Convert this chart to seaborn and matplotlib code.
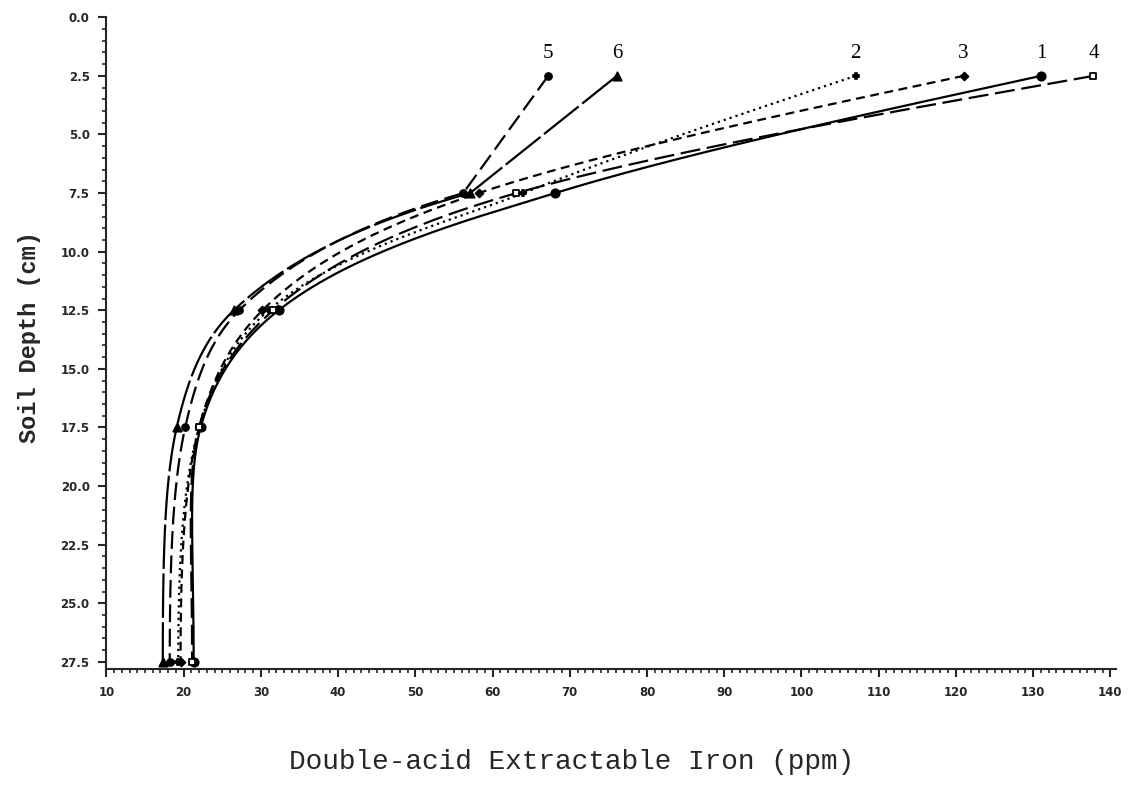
import numpy as np
import pandas as pd
import matplotlib
matplotlib.use("Agg")
import matplotlib.pyplot as plt
import seaborn as sns
from matplotlib.ticker import MultipleLocator, FormatStrFormatter

# ---- data ----
depths = [2.5, 7.5, 12.5, 17.5, 27.5]
series_names = ["1", "2", "3", "4", "5", "6"]
iron_1 = [131.0, 68.1, 32.3, 22.2, 21.3]
iron_2 = [107.0, 64.0, 31.0, 22.0, 19.3]
iron_3 = [121.0, 58.2, 30.2, 22.0, 19.6]
iron_4 = [137.8, 63.1, 31.6, 22.0, 21.1]
iron_5 = [67.2, 56.2, 27.2, 20.2, 18.2]
iron_6 = [76.1, 57.1, 26.5, 19.1, 17.3]
x_ticks = list(range(10, 141, 10))
y_ticks = [0.0, 2.5, 5.0, 7.5, 10.0, 12.5, 15.0, 17.5, 20.0, 22.5, 25.0, 27.5]

values = dict(zip(series_names, [iron_1, iron_2, iron_3, iron_4, iron_5, iron_6]))

styles = {
    "1": dict(dash=None, marker="o", ms=6, mfc="black", straight_top=False),
    "2": dict(dash=(1.0, 1.8), marker="P", ms=5, mfc="black", straight_top=False),
    "3": dict(dash=(4, 2.5), marker="D", ms=4, mfc="black", straight_top=False),
    "4": dict(dash=(9, 3), marker="s", ms=5, mfc="white", straight_top=False),
    "5": dict(dash=(8, 3), marker="o", ms=5, mfc="black", straight_top=True),
    "6": dict(dash=(20, 2), marker="^", ms=6, mfc="black", straight_top=True),
}


def hermite(t0, t1, y0, y1, m0, m1, t):
    h = t1 - t0
    s = (t - t0) / h
    h00 = 2 * s**3 - 3 * s**2 + 1
    h10 = s**3 - 2 * s**2 + s
    h01 = -2 * s**3 + 3 * s**2
    h11 = s**3 - s**2
    return h00 * y0 + h10 * h * m0 + h01 * y1 + h11 * h * m1


def smooth_profile(d, x, straight_top):
    """Smooth rendering curve through the measured points (x as function of depth)."""
    d = np.asarray(d, float); x = np.asarray(x, float)
    u = -1.0 / d  # stretch shallow depths, compress deep ones
    n = len(d)
    mu = np.zeros(n)
    for i in range(2, n - 1):
        mu[i] = (x[i + 1] - x[i - 1]) / (u[i + 1] - u[i - 1])
    mu[-1] = 0.0
    if straight_top:
        dseg = (x[2] - x[1]) / (u[2] - u[1])
        mu[1] = (3 * dseg - mu[2]) / 2
        m_top = None
    else:
        m_top = (x[2] - x[0]) / (d[2] - d[0])      # slope in depth space
        mu[1] = m_top * d[1] ** 2                  # same slope in u space
    dd_all, xx_all = [], []
    td = np.linspace(d[0], d[1], 120)
    if straight_top:
        tx = x[0] + (x[1] - x[0]) * (td - d[0]) / (d[1] - d[0])
    else:
        dseg = (x[1] - x[0]) / (d[1] - d[0])
        m0 = (3 * dseg - m_top) / 2
        tx = hermite(d[0], d[1], x[0], x[1], m0, m_top, td)
    dd_all.append(td); xx_all.append(tx)
    for i in range(1, n - 1):
        sd = np.linspace(d[i], d[i + 1], 150)[1:]
        su = -1.0 / sd
        sx = hermite(u[i], u[i + 1], x[i], x[i + 1], mu[i], mu[i + 1], su)
        dd_all.append(sd); xx_all.append(sx)
    return np.concatenate(dd_all), np.concatenate(xx_all)


sns.set_style("ticks")
plt.rcParams["font.family"] = ["DejaVu Sans"]

fig = plt.figure(figsize=(11.38, 7.86), dpi=100)
ax = fig.add_axes([0.0935, 0.149, 0.887, 0.829])

for name in series_names:
    st = styles[name]
    vals = values[name]
    dd, xx = smooth_profile(depths, vals, st["straight_top"])
    df = pd.DataFrame({"iron": xx, "depth": dd})
    sns.lineplot(data=df, x="iron", y="depth", sort=False, ax=ax,
                 estimator=None, color="black", linewidth=1.6)
    ln = ax.lines[-1]
    if st["dash"] is not None:
        ln.set_dashes(st["dash"])
    pts = pd.DataFrame({"iron": vals, "depth": depths})
    sns.scatterplot(data=pts, x="iron", y="depth", ax=ax, marker=st["marker"],
                    s=st["ms"] ** 2, color=st["mfc"], edgecolor="black",
                    linewidth=1.3, zorder=5)
    ax.text(vals[0], 1.55, name, ha="center", va="center",
            fontsize=15, family="Liberation Serif", color="black")

ax.set_xlim(10, 140.7)
ax.set_ylim(27.8, 0.0)
ax.set_xticks(x_ticks)
ax.set_yticks(y_ticks)
ax.xaxis.set_minor_locator(MultipleLocator(1))
ax.yaxis.set_minor_locator(MultipleLocator(0.5))
ax.yaxis.set_major_formatter(FormatStrFormatter("%.1f"))
ax.tick_params(axis="both", which="major", direction="out", length=6, width=1.5,
               labelsize=8.5, pad=6)
ax.tick_params(axis="both", which="minor", direction="out", length=3, width=1.2)
for lab in ax.get_xticklabels() + ax.get_yticklabels():
    lab.set_fontweight("bold")
for sp in ["top", "right"]:
    ax.spines[sp].set_visible(False)
for sp in ["left", "bottom"]:
    ax.spines[sp].set_linewidth(1.5)

ax.set_xlabel("Double-acid Extractable Iron (ppm)", family="Liberation Mono",
              fontsize=20, labelpad=36)
ax.xaxis.label.set_x(0.461)
ax.set_ylabel("Soil Depth (cm)", family="Liberation Mono", fontsize=17,
              fontweight="bold", labelpad=14)
ax.yaxis.label.set_y(0.51)

fig.savefig("out.png", dpi=100, facecolor="white")
